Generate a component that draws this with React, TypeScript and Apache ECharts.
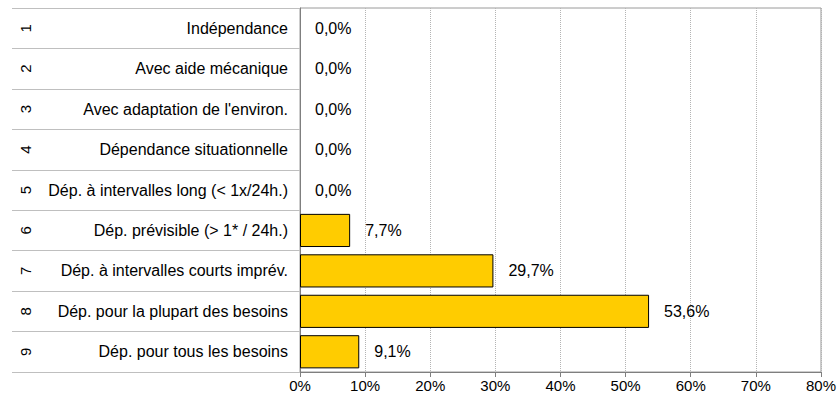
import React, { useEffect, useRef } from "react";
import * as echarts from "echarts";

const categories = [
  "Indépendance",
  "Avec aide mécanique",
  "Avec adaptation de l'environ.",
  "Dépendance situationnelle",
  "Dép. à intervalles long (< 1x/24h.)",
  "Dép. prévisible (> 1* / 24h.)",
  "Dép. à intervalles courts imprév.",
  "Dép. pour la plupart des besoins",
  "Dép. pour tous les besoins",
];
const levels = ["1", "2", "3", "4", "5", "6", "7", "8", "9"];
const values = [0, 0, 0, 0, 0, 7.7, 29.7, 53.6, 9.1];
const xTicks = { min: 0, max: 80, interval: 10 };

const FONT = "'Liberation Sans', Arial, sans-serif";

export default function App() {
  const ref = useRef<HTMLDivElement>(null);
  useEffect(() => {
    if (!ref.current) return;
    const chart = echarts.init(ref.current, null, { renderer: "svg" });
    chart.setOption({
      animation: false,
      backgroundColor: "#ffffff",
      textStyle: { fontFamily: FONT },
      grid: {
        left: 300,
        right: 17,
        top: 8,
        bottom: 26,
        show: true,
        borderColor: "#9a9a9a",
        borderWidth: 1,
        backgroundColor: "transparent",
      },
      xAxis: {
        type: "value",
        min: xTicks.min,
        max: xTicks.max,
        interval: xTicks.interval,
        axisLine: { show: true, lineStyle: { color: "#7f7f7f", width: 1 } },
        axisTick: { show: true, length: 5, lineStyle: { color: "#7f7f7f" } },
        axisLabel: {
          formatter: "{value}%",
          fontSize: 15,
          color: "#000",
          margin: 6,
          fontFamily: FONT,
        },
        splitLine: {
          show: true,
          lineStyle: { color: "#b4b4b4", type: [1, 1], width: 1 },
        },
      },
      yAxis: [
        {
          type: "category",
          data: categories,
          inverse: true,
          position: "left",
          axisLine: { show: true, lineStyle: { color: "#7f7f7f", width: 1 } },
          axisTick: {
            show: true,
            length: 288,
            lineStyle: { color: "#bfbfbf", width: 1 },
          },
          axisLabel: {
            fontSize: 16,
            color: "#000",
            margin: 12,
            fontFamily: FONT,
          },
          splitLine: { show: false },
        },
        {
          type: "category",
          data: levels,
          inverse: true,
          position: "left",
          offset: 265,
          axisLine: { show: false },
          axisTick: { show: false },
          axisLabel: {
            rotate: 90,
            fontSize: 15,
            color: "#000",
            margin: 2,
            fontFamily: FONT,
          },
          splitLine: { show: false },
        },
      ],
      series: [
        {
          type: "bar",
          data: values.map((v) => ({
            value: v,
            itemStyle: v === 0 ? { borderWidth: 0 } : undefined,
          })),
          yAxisIndex: 0,
          barCategoryGap: "18%",
          itemStyle: { color: "#FFCC00", borderColor: "#000", borderWidth: 1 },
          label: {
            show: true,
            position: "right",
            distance: 15,
            fontSize: 16,
            color: "#000",
            fontFamily: FONT,
            formatter: (p: any) => Number(p.value).toFixed(1).replace(".", ",") + "%",
          },
        },
      ],
    });
    return () => chart.dispose();
  }, []);
  return <div ref={ref} style={{ width: 839, height: 398, position: "absolute", left: 0, top: 0 }} />;
}
